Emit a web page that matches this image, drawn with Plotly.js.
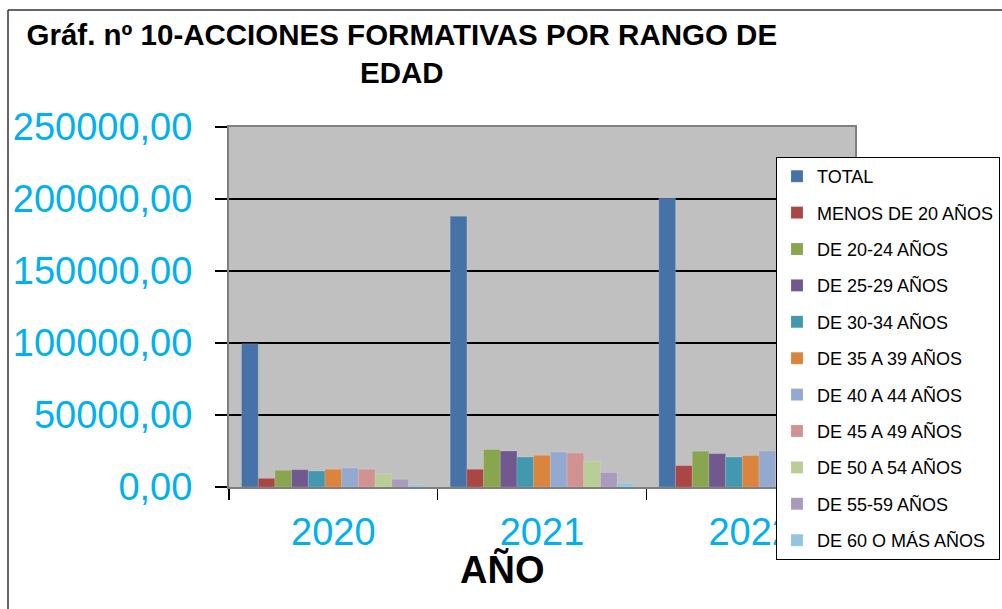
<!DOCTYPE html>
<html>
<head>
<meta charset="utf-8">
<script src="https://cdn.plot.ly/plotly-3.0.1.min.js"></script>
<style>html,body{margin:0;padding:0;background:#fff;}#chart{width:1002px;height:609px;}</style>
</head>
<body>
<div id="chart"></div>
<script>
const years = ["2020", "2021", "2022"];
const seriesNames = ["TOTAL", "MENOS DE 20 AÑOS", "DE 20-24 AÑOS", "DE 25-29 AÑOS", "DE 30-34 AÑOS",
  "DE 35 A 39 AÑOS", "DE 40 A 44 AÑOS", "DE 45 A 49 AÑOS", "DE 50 A 54 AÑOS", "DE 55-59 AÑOS", "DE 60 O MÁS AÑOS"];
const total      = [99500, 188000, 200500];
const menos20    = [6000, 12300, 14800];
const de20_24    = [11600, 26000, 24800];
const de25_29    = [12000, 25000, 23200];
const de30_34    = [11100, 20800, 20800];
const de35_39    = [12300, 22000, 21800];
const de40_44    = [13200, 24300, 25000];
const de45_49    = [12300, 23600, 27000];
const de50_54    = [9300, 17800, 19000];
const de55_59    = [5300, 10000, 11000];
const de60mas    = [1400, 2500, 3000];
const seriesValues = [total, menos20, de20_24, de25_29, de30_34, de35_39, de40_44, de45_49, de50_54, de55_59, de60mas];
const colors = ["#4572A7", "#AA4643", "#89A54E", "#71588F", "#4198AF", "#DB843D",
  "#93A9CF", "#D19392", "#B9CD96", "#A99BBD", "#92C5DE"];

const traces = seriesNames.map((name, i) => ({
  type: "bar",
  name: name,
  x: years,
  y: seriesValues[i],
  legendgroup: "g" + i,
  marker: {color: colors[i], line: {color: "rgba(255,255,255,0.25)", width: 0.6}},
  hoverinfo: "x+y+name"
}));

const W = 1002, H = 609;
const L = 229, R = 855, T = 127, B = 487;
const pw = R - L, ph = B - T;
const px = v => (v - L) / pw;
const py = v => (B - v) / ph;

const layout = {
  width: W, height: H,
  margin: {l: L, r: W - R, t: T, b: H - B, pad: 0, autoexpand: false},
  paper_bgcolor: "#ffffff",
  plot_bgcolor: "#C0C0C0",
  separators: ",.",
  barmode: "group",
  bargap: 0.12,
  bargroupgap: 0,
  font: {family: "Liberation Sans, Arial, sans-serif", color: "#000"},
  title: {
    text: "<b>Gráf. nº 10-ACCIONES FORMATIVAS POR RANGO DE<br>EDAD</b>",
    font: {family: "Liberation Sans, Arial, sans-serif", size: 29.5, color: "#000"},
    x: 0.401, xanchor: "center", xref: "container",
    y: 1 - 45 / H, yanchor: "middle", yref: "container"
  },
  xaxis: {
    type: "category",
    tickson: "boundaries",
    ticks: "outside", ticklen: 11, tickcolor: "#000", tickwidth: 1.5,
    showline: true, linecolor: "#7f7f7f", linewidth: 2, mirror: true,
    tickfont: {family: "Liberation Sans, Arial, sans-serif", size: 38, color: "#00B0F0"},
    showgrid: false,
    automargin: false,
    ticklabelstandoff: 10
  },
  yaxis: {
    range: [0, 250000],
    tickvals: [0, 50000, 100000, 150000, 200000, 250000],
    tickformat: ".2f",
    ticks: "outside", ticklen: 12, tickcolor: "#000", tickwidth: 1.5,
    showline: true, linecolor: "#7f7f7f", linewidth: 2, mirror: true,
    showgrid: true, gridcolor: "#000", gridwidth: 1.5,
    zeroline: false,
    automargin: false,
    tickfont: {family: "Liberation Sans, Arial, sans-serif", size: 38, color: "#00B0F0"},
    ticklabelstandoff: 15
  },
  legend: {
    xref: "container", yref: "container",
    x: 1000 / W, y: 1 - 157 / H, xanchor: "right", yanchor: "top",
    bgcolor: "#ffffff", bordercolor: "#000", borderwidth: 1,
    font: {family: "Liberation Sans, Arial, sans-serif", size: 18, color: "#000"},
    traceorder: "grouped", tracegroupgap: 10, itemwidth: 30,
    maxheight: 440
  },
  annotations: [{
    text: "<b>AÑO</b>", xref: "paper", yref: "paper",
    x: px(502), y: py(569), xanchor: "center", yanchor: "middle",
    showarrow: false,
    font: {family: "Liberation Sans, Arial, sans-serif", size: 38, color: "#000"}
  }],
  shapes: [
    {type: "line", xref: "paper", yref: "paper", x0: px(8), x1: px(8), y0: py(10), y1: py(700), line: {color: "#333", width: 1.5}},
    {type: "line", xref: "paper", yref: "paper", x0: px(8), x1: px(1100), y0: py(10), y1: py(10), line: {color: "#333", width: 1.5}}
  ],
  showlegend: true
};

Plotly.newPlot("chart", traces, layout, {displayModeBar: false, staticPlot: true});
</script>
</body>
</html>
